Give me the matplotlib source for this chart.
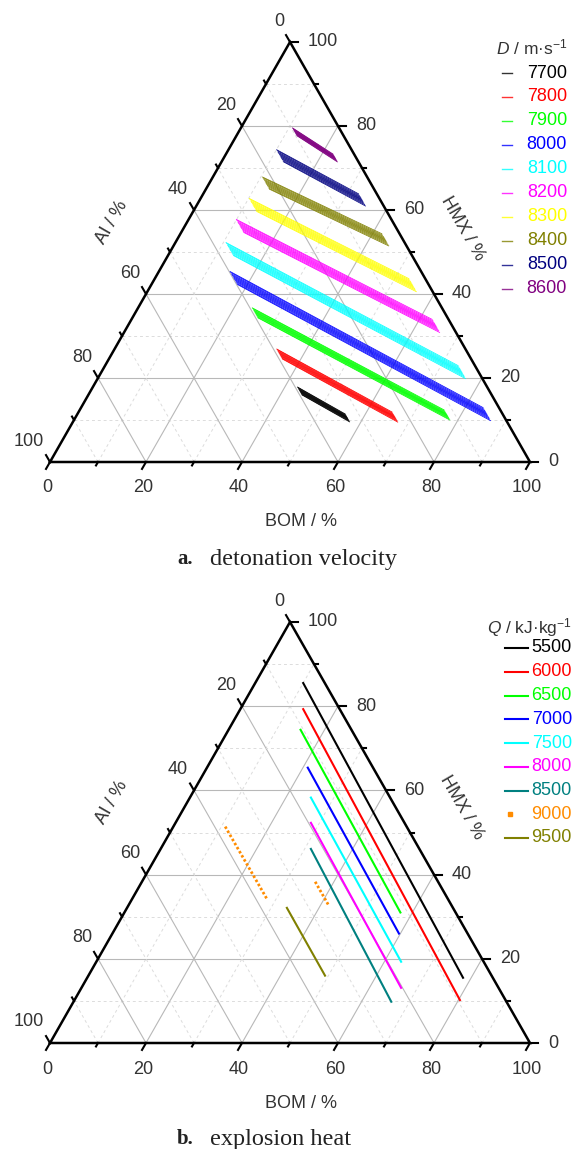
import matplotlib.pyplot as plt
import numpy as np
from matplotlib.lines import Line2D

plt.rcParams['font.family'] = ['Liberation Sans', 'DejaVu Sans']
plt.rcParams['mathtext.fontset'] = 'custom'
plt.rcParams['mathtext.rm'] = 'Liberation Sans'
plt.rcParams['mathtext.it'] = 'Liberation Sans:italic'

W, H = 574, 1149

# ---- panel a: detonation velocity bands (BOM %, HMX % at start / end of band centre)
d_levels = ['7700', '7800', '7900', '8000', '8100', '8200', '8300', '8400', '8500', '8600']
d_colors = ['#000000', '#ff0000', '#00ff00', '#0000ff', '#00ffff', '#ff00ff',
            '#ffff00', '#808000', '#000080', '#800080']
d_bom0 = [43.6, 35.0, 25.0, 16.4, 12.1, 11.5, 11.7, 11.8, 11.5, 11.7]
d_hmx0 = [16.9, 25.7, 35.5, 43.8, 50.7, 56.2, 61.2, 66.4, 72.9, 78.6]
d_bom1 = [56.7, 66.5, 77.1, 85.3, 75.1, 64.2, 54.5, 43.4, 33.8, 23.2]
d_hmx1 = [10.5, 10.7, 11.2, 11.4, 21.4, 32.4, 42.1, 52.9, 62.4, 72.4]
d_width = [1.9, 2.4, 2.4, 3.1, 3.1, 3.1, 3.1, 2.9, 2.9, 1.9]
# relative position of each thin line across a band (start side, end side)
band_fracs_start = [-0.5, -0.42, -0.3, -0.2, -0.1, 0.0, 0.1, 0.2, 0.3, 0.42, 0.5]
band_fracs_end = [-0.5, -0.38, -0.27, -0.17, -0.08, 0.0, 0.08, 0.17, 0.27, 0.38, 0.5]

# ---- panel b: explosion heat lines
q_levels = ['5500', '6000', '6500', '7000', '7500', '8000', '8500', '9000', '9500']
q_colors = ['#000000', '#ff0000', '#00ff00', '#0000ff', '#00ffff', '#ff00ff',
            '#008080', '#ff8c00', '#808000']
# each level may have several segments: (bom0, hmx0, bom1, hmx1)
q_segments = [
    [(10.0, 85.5, 78.3, 15.5)],
    [(13.1, 79.3, 80.3, 10.2)],
    [(15.0, 74.4, 57.5, 31.0)],
    [(21.0, 65.4, 59.7, 26.0)],
    [(25.2, 58.3, 63.5, 19.3)],
    [(28.2, 52.3, 66.6, 13.1)],
    [(31.3, 46.1, 66.2, 9.8)],
    [(10.8, 51.4, 28.3, 34.0), (36.1, 38.3, 41.5, 32.9)],
    [(33.3, 32.1, 49.3, 16.0)],
]

ticks = list(range(0, 101, 10))


def tern(b, h):
    b = np.asarray(b, float)
    h = np.asarray(h, float)
    return (b + 0.5 * h) / 100.0, h / 100.0


def px(x, y):
    return x / W, 1 - y / H


def draw_triangle(ax, wpx, hpx):
    # grid
    for k in range(10, 100, 10):
        major = k % 20 == 0
        kw = dict(color='#b8b8b8', lw=0.8) if major else dict(color='#dcdcdc', lw=0.7, ls=(0, (3, 3)))
        x, y = tern([k, k], [0, 100 - k])
        ax.plot(x, y, zorder=1, **kw)
        x, y = tern([0, 100 - k], [k, k])
        ax.plot(x, y, zorder=1, **kw)
        x, y = tern([100 - k, 0], [0, 100 - k])
        ax.plot(x, y, zorder=1, **kw)
    # frame
    x, y = tern([0, 100, 0, 0], [0, 0, 100, 0])
    ax.plot(x, y, color='black', lw=1.8, zorder=5, solid_joinstyle='miter', clip_on=False)
    # ticks and labels
    for k in ticks:
        L = 8 if k % 20 == 0 else 4
        # bottom axis (BOM)
        x0, y0 = tern(k, 0)
        ax.plot([x0, x0 - 0.5 * L / wpx], [y0, y0 - 0.866 * L / hpx], color='black', lw=1.5, clip_on=False)
        # right axis (HMX)
        x0, y0 = tern(100 - k, k)
        ax.plot([x0, x0 + L / wpx], [y0, y0], color='black', lw=1.5, clip_on=False)
        # left axis (Al)
        x0, y0 = tern(0, 100 - k)
        ax.plot([x0, x0 - 0.5 * L / wpx], [y0, y0 + 0.866 * L / hpx], color='black', lw=1.5, clip_on=False)
        if k % 20 == 0:
            ax.annotate(str(k), tern(k, 0), xytext=(-3, -26), textcoords='offset pixels',
                        ha='center', va='center', fontsize=13, color='#333333')
            ax.annotate(str(k), tern(100 - k, k), xytext=(18, 0), textcoords='offset pixels',
                        ha='left', va='center', fontsize=13, color='#333333')
            ax.annotate(str(k), tern(0, 100 - k), xytext=(-6, 21), textcoords='offset pixels',
                        ha='right', va='center', fontsize=13, color='#333333')
    ax.set_xlim(0, 1)
    ax.set_ylim(0, 1)
    ax.axis('off')


fig = plt.figure(figsize=(W / 100, H / 100), dpi=100)

# ---------------- panel a
axa = fig.add_axes([50 / W, (H - 462) / H, 480 / W, 420 / H])
draw_triangle(axa, 480, 420)
for i in range(len(d_levels)):
    for fs, fe in zip(band_fracs_start, band_fracs_end):
        s = fs * d_width[i]
        e = fe * d_width[i]
        x, y = tern([d_bom0[i] + s, d_bom1[i] + e], [d_hmx0[i] - s, d_hmx1[i] - e])
        axa.plot(x, y, color=d_colors[i], lw=0.55, zorder=3)

fig.text(*px(301, 521), 'BOM / %', ha='center', va='center', fontsize=13, color='#333333')
fig.text(*px(463, 228), 'HMX / %', ha='center', va='center', fontsize=13, color='#333333', rotation=-60)
fig.text(*px(112, 222), 'Al / %', ha='center', va='center', fontsize=13, color='#333333', rotation=60)

fig.text(*px(567, 47), r'$D$ / m·s$^{-1}$', ha='right', va='center', fontsize=12.5, color='#333333')
for i, lev in enumerate(d_levels):
    yy = 73 + 23.95 * i
    fig.add_artist(Line2D([502 / W, 512 / W], [1 - yy / H] * 2, color=d_colors[i], lw=1.0,
                          alpha=0.8, transform=fig.transFigure))
    fig.text(*px(567, yy), lev, ha='right', va='center', fontsize=13, color=d_colors[i])

fig.text(*px(177, 559), 'a.', ha='left', va='center', fontsize=15, fontweight='bold',
         family=['Liberation Serif', 'DejaVu Serif'], color='#222222')
fig.text(*px(210, 559), 'detonation velocity', ha='left', va='center', fontsize=17.5,
         family=['Liberation Serif', 'DejaVu Serif'], color='#222222')

# ---------------- panel b
axb = fig.add_axes([50 / W, (H - 1043) / H, 480 / W, 421 / H])
draw_triangle(axb, 480, 421)
for i, segs in enumerate(q_segments):
    for (b0, h0, b1, h1) in segs:
        x, y = tern([b0, b1], [h0, h1])
        if q_levels[i] == '9000':
            axb.plot(x, y, color=q_colors[i], lw=2.0, ls=(0, (0.9, 0.8)), zorder=3)
        else:
            axb.plot(x, y, color=q_colors[i], lw=1.5, zorder=3)

fig.text(*px(301, 1103), 'BOM / %', ha='center', va='center', fontsize=13, color='#333333')
fig.text(*px(462, 807), 'HMX / %', ha='center', va='center', fontsize=13, color='#333333', rotation=-60)
fig.text(*px(112, 802), 'Al / %', ha='center', va='center', fontsize=13, color='#333333', rotation=60)

fig.text(*px(572, 628), r'$Q$ / kJ·kg$^{-1}$', ha='right', va='center', fontsize=12.5, color='#333333')
for i, lev in enumerate(q_levels):
    yy = 648 + 23.75 * i
    if lev == '9000':
        fig.add_artist(Line2D([510 / W], [1 - yy / H], color=q_colors[i], marker='s', ms=2.5, lw=0,
                              transform=fig.transFigure))
    else:
        fig.add_artist(Line2D([505 / W, 528 / W], [1 - yy / H] * 2, color=q_colors[i], lw=1.5,
                              transform=fig.transFigure))
    fig.text(*px(572, yy), lev, ha='right', va='center', fontsize=13, color=q_colors[i])

fig.text(*px(177, 1139), 'b.', ha='left', va='center', fontsize=15, fontweight='bold',
         family=['Liberation Serif', 'DejaVu Serif'], color='#222222')
fig.text(*px(210, 1139), 'explosion heat', ha='left', va='center', fontsize=17.5,
         family=['Liberation Serif', 'DejaVu Serif'], color='#222222')

fig.savefig('out.png', dpi=100)
